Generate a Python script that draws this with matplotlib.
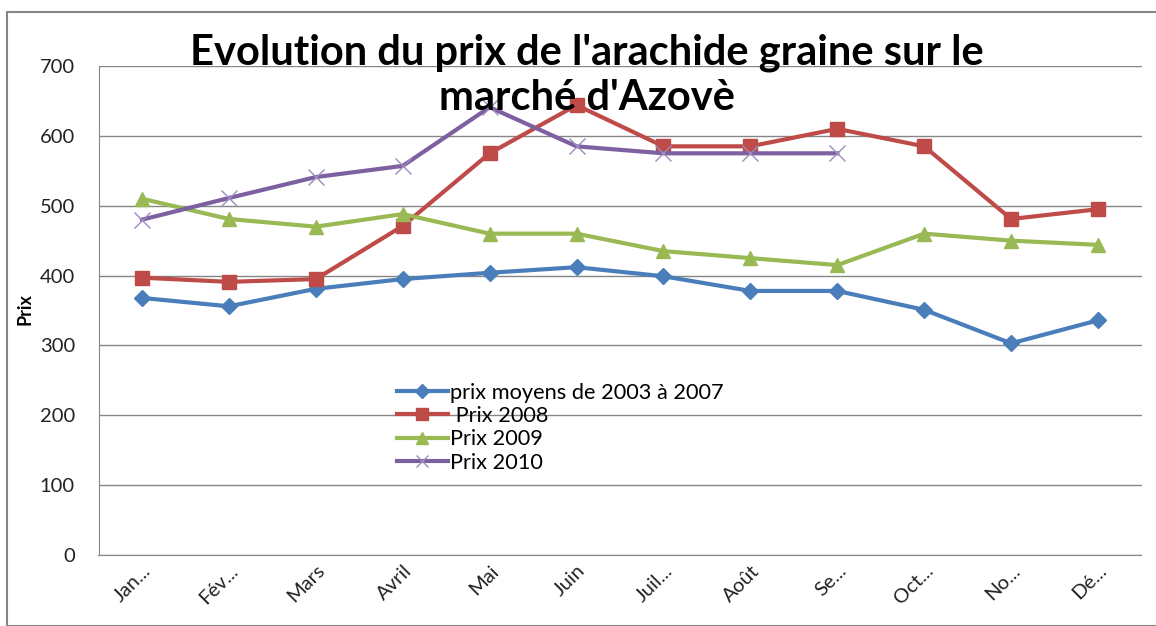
import matplotlib
matplotlib.use("Agg")
import matplotlib.pyplot as plt
from matplotlib.patches import Rectangle

months = ["Jan...", "Fév...", "Mars", "Avril", "Mai", "Juin", "Juil...", "Août", "Se...", "Oct...", "No...", "Dé..."]
moyens_2003_2007 = [368, 356, 381, 395, 404, 412, 399, 378, 378, 351, 303, 336]
prix_2008 = [397, 391, 395, 471, 575, 644, 585, 585, 610, 585, 481, 495]
prix_2009 = [510, 481, 470, 488, 460, 460, 435, 425, 415, 460, 450, 444]
prix_2010 = [480, 511, 541, 557, 641, 585, 575, 575, 575]
yticks = [0, 100, 200, 300, 400, 500, 600, 700]

plt.rcParams['font.family'] = ['Lato', 'DejaVu Sans']

fig = plt.figure(figsize=(11.56, 6.26), dpi=100)
ax = fig.add_axes([98.5/1156, 1-555/626, (1141.5-98.5)/1156, (555-66)/626])

x = list(range(len(months)))
ax.plot(x, moyens_2003_2007, color='#4a7ebb', lw=3, marker='D', ms=8, label='prix moyens de 2003 à 2007')
ax.plot(x, prix_2008, color='#be4b48', lw=3, marker='s', ms=10, label=' Prix 2008')
ax.plot(x, prix_2009, color='#98b954', lw=3, marker='^', ms=10, label='Prix 2009')
ax.plot(x[:len(prix_2010)], prix_2010, color='#7d60a0', lw=3, marker='x', ms=11, mew=1, mec='#9c8cc0', label='Prix 2010')

ax.set_xlim(-0.5, len(months) - 0.5)
ax.set_ylim(0, 700)
ax.set_yticks(yticks)
ax.yaxis.grid(True, color='#868686', lw=1)
ax.set_axisbelow(True)
ax.tick_params(axis='both', length=0, labelsize=14.5, colors='#222222')
ax.tick_params(axis='y', pad=17)
ax.set_xticks(x)
ax.set_xticklabels(months, rotation=45, ha='right', rotation_mode='anchor')
ax.tick_params(axis='x', pad=5)
for s in ['top', 'right']:
    ax.spines[s].set_visible(False)
ax.spines['left'].set_color('#868686')
ax.spines['bottom'].set_color('#868686')

ax.set_ylabel('Prix', fontsize=13, fontweight='bold')
ax.yaxis.set_label_coords(-(98.5-33)/1043, (555-309)/489)

fig.text(0.508, 1-75/626, "Evolution du prix de l'arachide graine sur le\nmarché d'Azovè",
         ha='center', va='center', fontsize=30, fontweight='bold', linespacing=1.22)

leg = ax.legend(loc='upper left', bbox_to_anchor=((388-98.5)/1043, (555-374)/489),
                frameon=False, fontsize=15.7, handlelength=2.35, handletextpad=0.1,
                labelspacing=0.15, borderaxespad=0)
for h, ms in zip(leg.legend_handles, [7, 9, 8, 9]):
    h.set_markersize(ms)

fig.patches.append(Rectangle((7/1156, 0), 1.2, 1-12/626, transform=fig.transFigure,
                             fill=False, edgecolor='#868686', lw=1.5))

fig.savefig('out.png', dpi=100)
